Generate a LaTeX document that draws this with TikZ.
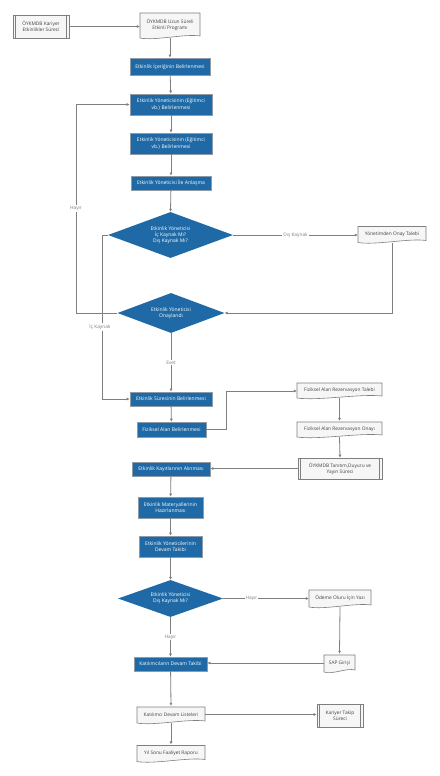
\documentclass[tikz,border=0pt]{standalone}
\usepackage{fontspec}
\setmainfont{Open Sans}
\usetikzlibrary{shapes.geometric,arrows.meta}
\definecolor{fblue}{HTML}{1F6AA6}
\definecolor{bord}{HTML}{8E9AA6}
\definecolor{lgray}{HTML}{7F7F7F}
\definecolor{dfill}{HTML}{F6F6F6}
\definecolor{tgray}{HTML}{404040}
\tikzset{
  bluebox/.style={draw=bord, line width=0.8pt, fill=fblue, text=white, align=center, inner sep=0pt, font=\fontsize{5}{6.3}\selectfont},
  dia/.style={diamond, fill=fblue, text=white, align=center, inner sep=0pt, aspect=2.5, font=\fontsize{5}{6.3}\selectfont},
  doctext/.style={align=center, inner sep=0pt, text=tgray, font=\fontsize{4.8}{6.1}\selectfont},
  docfill/.style={fill=dfill, draw=lgray, line width=0.6pt},
  ppbox/.style={draw=lgray, line width=0.6pt, fill=dfill, align=center, inner sep=0pt, text=tgray, font=\fontsize{4.8}{6.1}\selectfont},
  ppline/.style={draw=lgray, line width=0.6pt},
  conn/.style={draw=lgray, line width=0.8pt, -{Latex[length=3pt,width=3pt]}},
  lbl/.style={fill=white, text=lgray, inner sep=1pt, font=\fontsize{4.8}{6.1}\selectfont}
}
\newcommand{\docnode}[6]{%
  \path[docfill] ({#2-#4/2},{#3-#5/2}) -- ({#2+#4/2},{#3-#5/2}) -- ({#2+#4/2},{#3+#5/2-3})
    .. controls ({#2+#4/4},{#3+#5/2-5.5}) and ({#2-#4/4},{#3+#5/2+2}) .. ({#2-#4/2},{#3+#5/2-1}) -- cycle;
  \node[doctext, minimum width=#4pt, minimum height=#5pt] (#1) at (#2,{#3-1}) {#6};
}
\newcommand{\ppnode}[6]{%
  \node[ppbox, minimum width=#4pt, minimum height=#5pt] (#1) at (#2,#3) {#6};
  \draw[ppline] ([xshift=3pt]#1.north west) -- ([xshift=3pt]#1.south west);
  \draw[ppline] ([xshift=-3pt]#1.north east) -- ([xshift=-3pt]#1.south east);
}
\begin{document}
\begin{tikzpicture}[x=1pt,y=-1pt]
\useasboundingbox[fill=white] (0,0) rectangle (439,776);

% nodes
\ppnode{pp1}{41}{26.5}{56}{23}{ÖYKMDB Kariyer\\Etkinlikler Süreci}
\docnode{doc1}{170}{26}{60}{26}{ÖYKMDB Uzun Süreli\\Etkinli Programı}
\node[bluebox, minimum width=80pt, minimum height=17pt] (b1) at (170,66.5) {Etkinlik İçeriğinin Belirlenmesi};
\node[bluebox, minimum width=82pt, minimum height=21pt] (b2) at (171,104.5) {Etkinlik Yöneticisinin (Eğitimci\\vb.) Belirlenmesi};
\node[bluebox, minimum width=82pt, minimum height=21pt] (b3) at (171,143.5) {Etkinlik Yöneticisinin (Eğitimci\\vb.) Belirlenmesi};
\node[bluebox, minimum width=80pt, minimum height=14pt] (b4) at (171,183) {Etkinlik Yöneticisi İle Anlaşma};
\node[dia, minimum width=125pt, minimum height=46pt] (d1) at (170.5,235) {Etkinlik Yöneticisi\\İç Kaynak Mı?\\Dış Kaynak Mı?};
\docnode{doc2}{392}{235}{68}{17}{Yönetimden Onay Talebi}
\node[dia, minimum width=107pt, minimum height=40pt] (d2) at (171,313) {Etkinlik Yöneticisi\\Onaylandı};
\node[bluebox, minimum width=82pt, minimum height=14pt] (b5) at (171,399) {Etkinlik Süresinin Belirlenmesi};
\node[bluebox, minimum width=69pt, minimum height=15pt] (b6) at (171.5,429.5) {Fiziksel Alan Belirlenmesi};
\docnode{doc3}{339.5}{391}{85}{16}{Fiziksel Alan Rezervasyon Talebi}
\docnode{doc4}{339.5}{430}{85}{16}{Fiziksel Alan Rezervasyon Onayı}
\ppnode{pp2}{340}{468.5}{84}{21}{ÖYKMDB Tanıtım,Duyuru ve\\Yayın Süreci}
\node[bluebox, minimum width=78pt, minimum height=14pt] (b7) at (171,469) {Etkinlik Kayıtlarının Alınması};
\node[bluebox, minimum width=65pt, minimum height=21pt] (b8) at (170.5,507.5) {Etkinlik Materyallerinin\\Hazırlanması};
\node[bluebox, minimum width=63pt, minimum height=21pt] (b9) at (170.5,546.5) {Etkinlik Yöneticilerinin\\Devam Takibi};
\node[dia, minimum width=105pt, minimum height=37pt] (d3) at (170.5,598.5) {Etkinlik Yöneticisi\\Dış Kaynak Mı?};
\docnode{doc5}{340}{599}{62}{18}{Ödeme Oluru İçin Yazı}
\docnode{doc6}{339.5}{664}{31}{18}{SAP Girişi}
\node[bluebox, minimum width=73pt, minimum height=14pt] (b10) at (170.5,664) {Katılımcıların Devam Takibi};
\docnode{doc7}{171}{715.5}{68}{17}{Katılımcı Devam Listeleri}
\ppnode{pp3}{340}{715.5}{46}{23}{Kariyer Takip\\Süreci}
\docnode{doc8}{171}{754}{68}{17}{Yıl Sonu Faaliyet Raporu}

\coordinate (c1) at (392,313);
\coordinate (c2) at (76,313);
\coordinate (c3) at (76,104.5);
\coordinate (c4) at (102,235);
\coordinate (c5) at (102,399);
\coordinate (c6) at (226,429.5);
\coordinate (c7) at (226,391);

% connectors
\draw[conn] (pp1.east) -- (pp1.east -| doc1.west);
\draw[conn] (doc1.south) -- (b1.north);
\draw[conn] (b1) -- (b2);
\draw[conn] (b2) -- (b3);
\draw[conn] (b3) -- (b4);
\draw[conn] (b4) -- (d1.north);
\draw[conn] (d1.east) -- node[lbl, pos=0.5] {Dış Kaynak} (d1.east -| doc2.west);
\draw[conn] (doc2.south) -- (c1) -- (d2.east);
\draw[conn] (d2.west) -- (c2) -- node[lbl, pos=0.5] {Hayır} (c3) -- (b2.west);
\draw[conn] (d1.west) -- (c4) -- node[lbl, pos=0.56, xshift=-2pt] {İç Kaynak} (c5) -- (b5.west);
\draw[conn] (d2.south) -- node[lbl] {Evet} (b5.north);
\draw[conn] (b5) -- (b6);
\draw[conn] (b6.east) -- (c6) -- (c7) -- (c7 -| doc3.west);
\draw[conn] (doc3.south) -- (doc4.north);
\draw[conn] (doc4.south) -- (pp2.north);
\draw[conn] (pp2.west) -- (pp2.west -| b7.east);
\draw[conn] (b7) -- (b8);
\draw[conn] (b8) -- (b9);
\draw[conn] (b9) -- (d3.north);
\draw[conn] (d3.east) -- node[lbl, pos=0.33] {Hayır} (d3.east -| doc5.west);
\draw[conn] (doc5.south) -- (doc6.north);
\draw[conn] (doc6.west) -- (doc6.west -| b10.east);
\draw[conn] (d3.south) -- node[lbl] {Hayır} (b10.north);
\draw[conn] (b10) -- (doc7.north);
\draw[conn] (doc7.east) -- (doc7.east -| pp3.west);
\draw[conn] (doc7.south) -- (doc8.north);
\end{tikzpicture}
\end{document}
